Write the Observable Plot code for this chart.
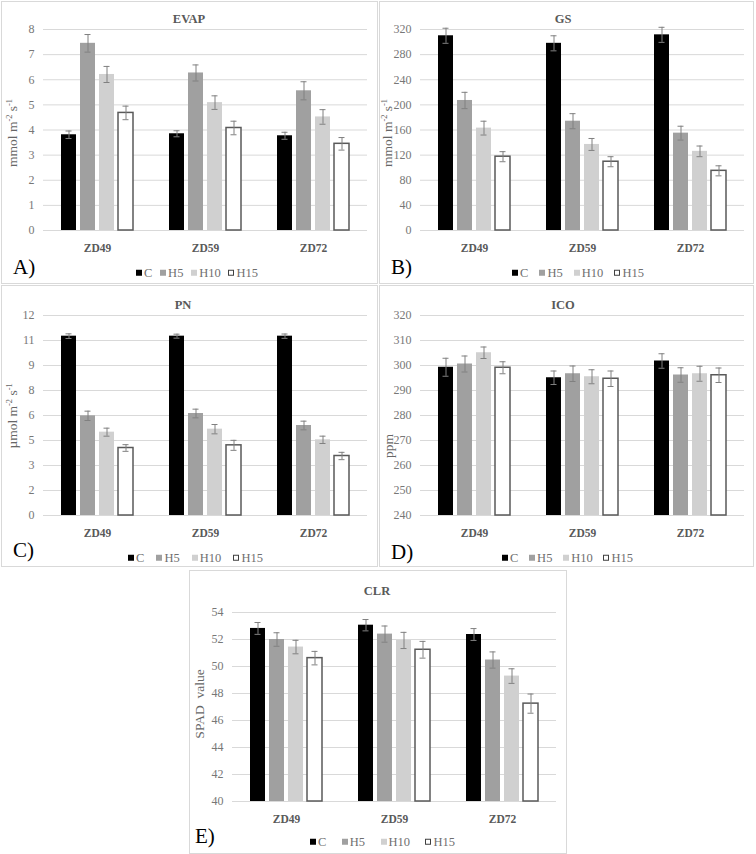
<!DOCTYPE html>
<html><head><meta charset="utf-8">
<script src="https://cdn.jsdelivr.net/npm/d3@7"></script>
<script src="https://cdn.jsdelivr.net/npm/@observablehq/plot@0.6"></script>
<style>
html,body{margin:0;padding:0;background:#fff;}
#fig{position:relative;width:756px;height:854px;background:#fff;font-family:"Liberation Serif","Times New Roman",serif;overflow:hidden}
.panel{position:absolute;box-sizing:border-box;border:1px solid #d9d9d9;}
.panel svg{position:absolute;left:0;top:0;}
.lbl{position:absolute;white-space:nowrap;line-height:1;}
.title{font-weight:bold;font-size:12.5px;color:#595959;transform:translate(-50%,-50%);}
.ylab{font-size:13.5px;color:#666;transform:translate(-50%,-50%) rotate(-90deg);}
.ylab sup{font-size:0.62em;vertical-align:0.6em;line-height:0;}
.letter{font-size:21px;color:#000;transform:translateY(-50%);}
.legend{display:flex;justify-content:space-between;align-items:center;font-size:12.5px;color:#6f6f6f;transform:translateY(-50%);}
.legend .it{display:flex;align-items:center;}
.legend .sw{width:6px;height:6px;margin-right:2px;box-sizing:border-box;}
</style></head><body><div id="fig"></div><script>
const categories = ["ZD49", "ZD59", "ZD72"];
const series = ["C", "H5", "H10", "H15"];

// values ordered ZD49(C,H5,H10,H15), ZD59(...), ZD72(...)
const evapMean = [3.81, 7.45, 6.21, 4.68, 3.85, 6.27, 5.09, 4.08, 3.77, 5.56, 4.52, 3.45];
const evapErr  = [0.15, 0.35, 0.32, 0.27, 0.12, 0.32, 0.27, 0.27, 0.14, 0.36, 0.29, 0.25];
const gsMean = [310, 207, 163, 117.5, 298, 174, 137, 109.5, 311.5, 155, 126, 95];
const gsErr  = [12, 13, 11, 8, 12, 12, 9.5, 8, 12, 11, 8.5, 8];
const pnMean = [10.76, 5.98, 5.0, 4.05, 10.76, 6.12, 5.18, 4.21, 10.76, 5.4, 4.54, 3.57];
const pnErr  = [0.14, 0.28, 0.24, 0.2, 0.12, 0.26, 0.28, 0.3, 0.13, 0.26, 0.22, 0.22];
const icoMean = [299.3, 300.6, 305.1, 299.1, 295.1, 296.7, 295.5, 294.7, 301.8, 296.2, 296.7, 296.1];
const icoErr  = [3.6, 3.2, 2.3, 2.4, 2.7, 3.1, 2.8, 3.1, 2.9, 2.9, 3.0, 2.9];
const clrMean = [52.82, 52.0, 51.44, 50.62, 53.06, 52.40, 51.93, 51.24, 52.37, 50.48, 49.29, 47.25];
const clrErr  = [0.44, 0.5, 0.5, 0.5, 0.42, 0.6, 0.6, 0.62, 0.44, 0.6, 0.54, 0.71];

const evapTicks = [0, 1, 2, 3, 4, 5, 6, 7, 8];
const gsTicks = [0, 40, 80, 120, 160, 200, 240, 280, 320];
const pnTicks = [0, 1.5, 3, 4.5, 6, 7.5, 9, 10.5, 12];
const icoTicks = [240, 250, 260, 270, 280, 290, 300, 310, 320];
const clrTicks = [40, 42, 44, 46, 48, 50, 52, 54];

const seriesFill = ["#000000", "#a0a0a0", "#d0d0d0", "#ffffff"];
const unitLabel = "mmol m<sup>-2</sup> s<sup>-1</sup>";
const serif = "'Liberation Serif','Times New Roman',serif";

function table(mean, err) {
  return categories.flatMap((c, i) => series.map((s, j) => ({cat: c, series: s, value: mean[i * 4 + j], err: err[i * 4 + j]})));
}

const panels = [
  {letter: "A)", title: "EVAP", ylabel: unitLabel, mean: evapMean, err: evapErr, ticks: evapTicks, fmt: d => d,
   box: [1, 1, 377, 283], plot: [43, 29, 367, 230], titleXY: [189, 19], ylab: [13, 133], letterXY: [13, 267], legend: [136, 258, 273]},
  {letter: "B)", title: "GS", ylabel: unitLabel, mean: gsMean, err: gsErr, ticks: gsTicks, fmt: d => d,
   box: [379, 1, 375, 283], plot: [420, 29, 744, 230], titleXY: [563, 19], ylab: [388, 133], letterXY: [391, 267], legend: [512, 644, 273]},
  {letter: "C)", title: "PN", ylabel: "µmol m<sup>-2</sup> s<sup>-1</sup>", mean: pnMean, err: pnErr, ticks: pnTicks, fmt: d => Math.round(d),
   box: [1, 285, 377, 282], plot: [43, 315, 367, 515], titleXY: [183, 305], ylab: [13, 416], letterXY: [13, 550], legend: [128, 263, 558]},
  {letter: "D)", title: "ICO", ylabel: "ppm", mean: icoMean, err: icoErr, ticks: icoTicks, fmt: d => d,
   box: [379, 285, 375, 282], plot: [420, 315, 744, 515], titleXY: [563, 305], ylab: [389, 446], letterXY: [391, 552], legend: [502, 633, 558]},
  {letter: "E)", title: "CLR", ylabel: "SPAD&nbsp; value", mean: clrMean, err: clrErr, ticks: clrTicks, fmt: d => d,
   box: [189, 570, 378, 284], plot: [232, 612, 556, 801], titleXY: [377, 591], ylab: [200, 704], letterXY: [195, 836], legend: [310, 455, 842]}
];

const fig = document.getElementById("fig");

function addLabel(cls, html, x, y) {
  const d = document.createElement("div");
  d.className = "lbl " + cls;
  d.innerHTML = html;
  d.style.left = x + "px";
  d.style.top = y + "px";
  fig.appendChild(d);
  return d;
}

for (const p of panels) {
  const [bx, by, bw, bh] = p.box;
  const ix = bx + 1, iy = by + 1, iw = bw - 2, ih = bh - 2;
  const [pl, pt, pr, pb] = p.plot;
  const data = table(p.mean, p.err);
  const y0 = p.ticks[0], y1 = p.ticks[p.ticks.length - 1];

  const panel = document.createElement("div");
  panel.className = "panel";
  Object.assign(panel.style, {left: bx + "px", top: by + "px", width: bw + "px", height: bh + "px"});
  fig.appendChild(panel);

  const svg = Plot.plot({
    width: iw, height: ih,
    marginLeft: pl - ix, marginRight: ix + iw - pr, marginTop: pt - iy, marginBottom: iy + ih - pb,
    style: {background: "transparent", fontFamily: serif, overflow: "visible"},
    fx: {domain: categories, paddingInner: 0, paddingOuter: 0, label: null},
    x: {domain: series, paddingInner: 0.21, paddingOuter: 0.83, axis: null},
    y: {domain: [y0, y1], label: null},
    color: {domain: series, range: seriesFill},
    marks: [
      Plot.gridY(p.ticks, {stroke: "#d9d9d9", strokeOpacity: 1, strokeWidth: 1}),
      Plot.axisY(p.ticks, {tickSize: 0, tickPadding: 9, tickFormat: p.fmt, fontSize: 12, fontFamily: serif, fill: "#777777", label: null}),
      Plot.axisFx({anchor: "bottom", tickSize: 0, tickPadding: 13, fontSize: 11.5, fontFamily: serif, fontWeight: "bold", fill: "#595959", label: null}),
      Plot.barY(data, {fx: "cat", x: "series", y1: y0, y2: "value", fill: "series"}),
      Plot.barY(data, {filter: d => d.series === "H15", fx: "cat", x: "series", y1: y0, y2: "value", fill: "none", stroke: "#595959", strokeWidth: 1.5}),
      Plot.ruleX(data, {fx: "cat", x: "series", y1: d => d.value - d.err, y2: d => d.value + d.err, stroke: "#808080", strokeWidth: 1}),
      Plot.tickY(data, {fx: "cat", x: "series", y: d => d.value + d.err, stroke: "#808080", strokeWidth: 1, insetLeft: 4.5, insetRight: 4.5}),
      Plot.tickY(data, {fx: "cat", x: "series", y: d => d.value - d.err, stroke: "#808080", strokeWidth: 1, insetLeft: 4.5, insetRight: 4.5})
    ]
  });
  panel.appendChild(svg);

  addLabel("title", p.title, p.titleXY[0], p.titleXY[1]);
  addLabel("ylab", p.ylabel, p.ylab[0], p.ylab[1]);
  addLabel("letter", p.letter, p.letterXY[0], p.letterXY[1]);

  const lg = addLabel("legend", "", p.legend[0], p.legend[2]);
  lg.style.width = (p.legend[1] - p.legend[0]) + "px";
  series.forEach((s, j) => {
    const it = document.createElement("div");
    it.className = "it";
    const sw = document.createElement("span");
    sw.className = "sw";
    sw.style.background = seriesFill[j];
    if (s === "H15") sw.style.border = "1px solid #404040";
    it.appendChild(sw);
    it.appendChild(document.createTextNode(s));
    lg.appendChild(it);
  });
}
</script></body></html>
